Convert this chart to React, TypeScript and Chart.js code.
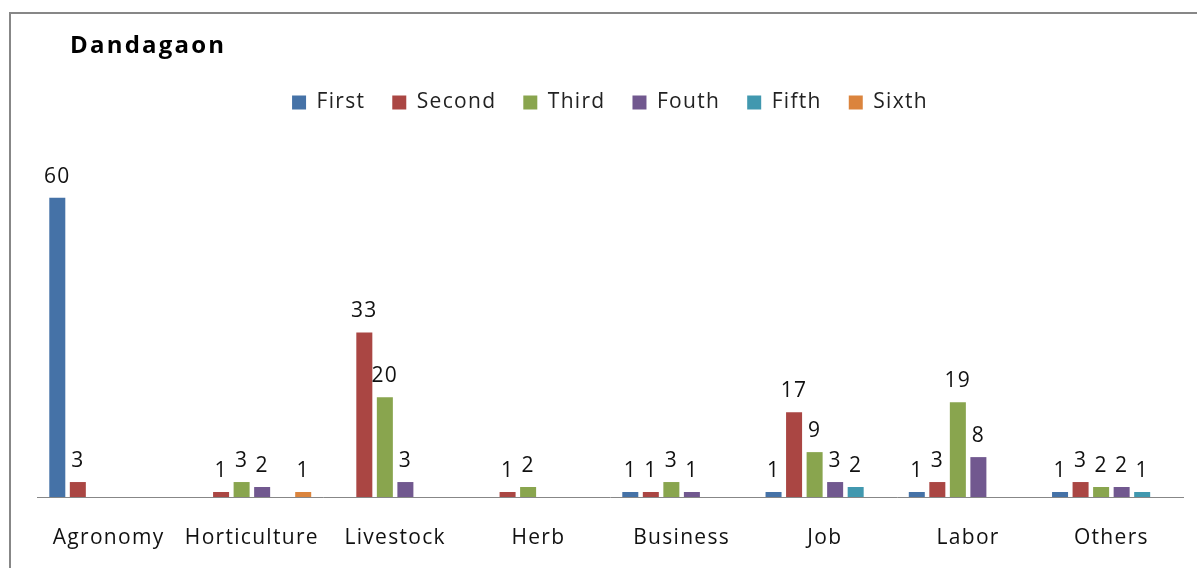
import React, { useEffect, useRef } from "react";
import { Chart, registerables } from "chart.js";

Chart.register(...registerables);

const categories = ["Agronomy", "Horticulture", "Livestock", "Herb", "Business", "Job", "Labor", "Others"];
const seriesNames = ["First", "Second", "Third", "Fouth", "Fifth", "Sixth"];
const firstValues = [60, 0, 0, 0, 1, 1, 1, 1];
const secondValues = [3, 1, 33, 1, 1, 17, 3, 3];
const thirdValues = [0, 3, 20, 2, 3, 9, 19, 2];
const fourthValues = [0, 2, 3, 0, 1, 3, 8, 2];
const fifthValues = [0, 0, 0, 0, 0, 2, 0, 1];
const sixthValues = [0, 1, 0, 0, 0, 0, 0, 0];
const seriesColors = ["#4572A7", "#AA4643", "#89A54E", "#71588F", "#4198AF", "#DB843D"];
const chartTitle = "Dandagaon";

const FONT = "'Open Sans', sans-serif";
const SPACING = "1.3px";

const spacingPlugin = {
  id: "spacing",
  beforeUpdate(chart: any) {
    chart.ctx.letterSpacing = SPACING;
  },
  beforeDraw(chart: any) {
    chart.ctx.letterSpacing = SPACING;
  },
};

const framePlugin = {
  id: "frame",
  beforeDraw(chart: any) {
    const ctx = chart.ctx;
    ctx.save();
    ctx.fillStyle = "#ffffff";
    ctx.fillRect(0, 0, chart.width, chart.height);
    ctx.strokeStyle = "#878787";
    ctx.lineWidth = 2;
    ctx.beginPath();
    ctx.moveTo(10, chart.height);
    ctx.lineTo(10, 13);
    ctx.lineTo(chart.width, 13);
    ctx.stroke();
    ctx.fillStyle = "#000";
    ctx.letterSpacing = "2.2px";
    ctx.font = `bold 24px ${FONT}`;
    ctx.textAlign = "left";
    ctx.textBaseline = "alphabetic";
    ctx.fillText(chartTitle, 70, 53);
    ctx.restore();
  },
};

const valueLabelPlugin = {
  id: "valueLabels",
  afterDatasetsDraw(chart: any) {
    const ctx = chart.ctx;
    ctx.save();
    ctx.fillStyle = "#111";
    ctx.font = `21px ${FONT}`;
    ctx.textAlign = "center";
    ctx.textBaseline = "alphabetic";
    chart.data.datasets.forEach((ds: any, i: number) => {
      const meta = chart.getDatasetMeta(i);
      meta.data.forEach((bar: any, j: number) => {
        const v = ds.data[j];
        if (!v) return;
        ctx.fillText(String(v), bar.x, bar.y - 15);
      });
    });
    ctx.restore();
  },
};

export default function App() {
  const ref = useRef<HTMLCanvasElement>(null);
  useEffect(() => {
    if (!ref.current) return;
    const all = [firstValues, secondValues, thirdValues, fourthValues, fifthValues, sixthValues];
    const chart = new Chart(ref.current, {
      type: "bar",
      data: {
        labels: categories,
        datasets: all.map((d, i) => ({
          label: seriesNames[i],
          data: d,
          backgroundColor: seriesColors[i],
          borderWidth: 0,
          categoryPercentage: 0.86,
          barPercentage: 0.78,
        })),
      },
      options: {
        animation: false,
        responsive: false,
        devicePixelRatio: 1,
        layout: { padding: { top: 65, left: 37, right: 14, bottom: 11 } },
        plugins: {
          tooltip: { enabled: false },
          title: { display: false },
          legend: {
            display: true,
            position: "top",
            labels: {
              boxWidth: 14,
              boxHeight: 14,
              padding: 27,
              color: "#222",
              font: { family: FONT, size: 21 },
            },
          },
        },
        scales: {
          x: {
            grid: { display: false, drawTicks: false },
            border: { display: true, color: "#878787", width: 1 },
            ticks: { color: "#111", font: { family: FONT, size: 21 }, padding: 28, maxRotation: 0, autoSkip: false },
            afterFit(scale: any) {
              scale.height = 60;
            },
          },
          y: {
            display: false,
            min: 0,
            max: 75,
          },
        },
      },
      plugins: [spacingPlugin, framePlugin, valueLabelPlugin],
    });
    return () => chart.destroy();
  }, []);
  return (
    <div style={{ position: "absolute", left: 0, top: 0, width: 1197, height: 568 }}>
      <canvas ref={ref} width={1197} height={568} style={{ width: 1197, height: 568, display: "block" }} />
    </div>
  );
}
